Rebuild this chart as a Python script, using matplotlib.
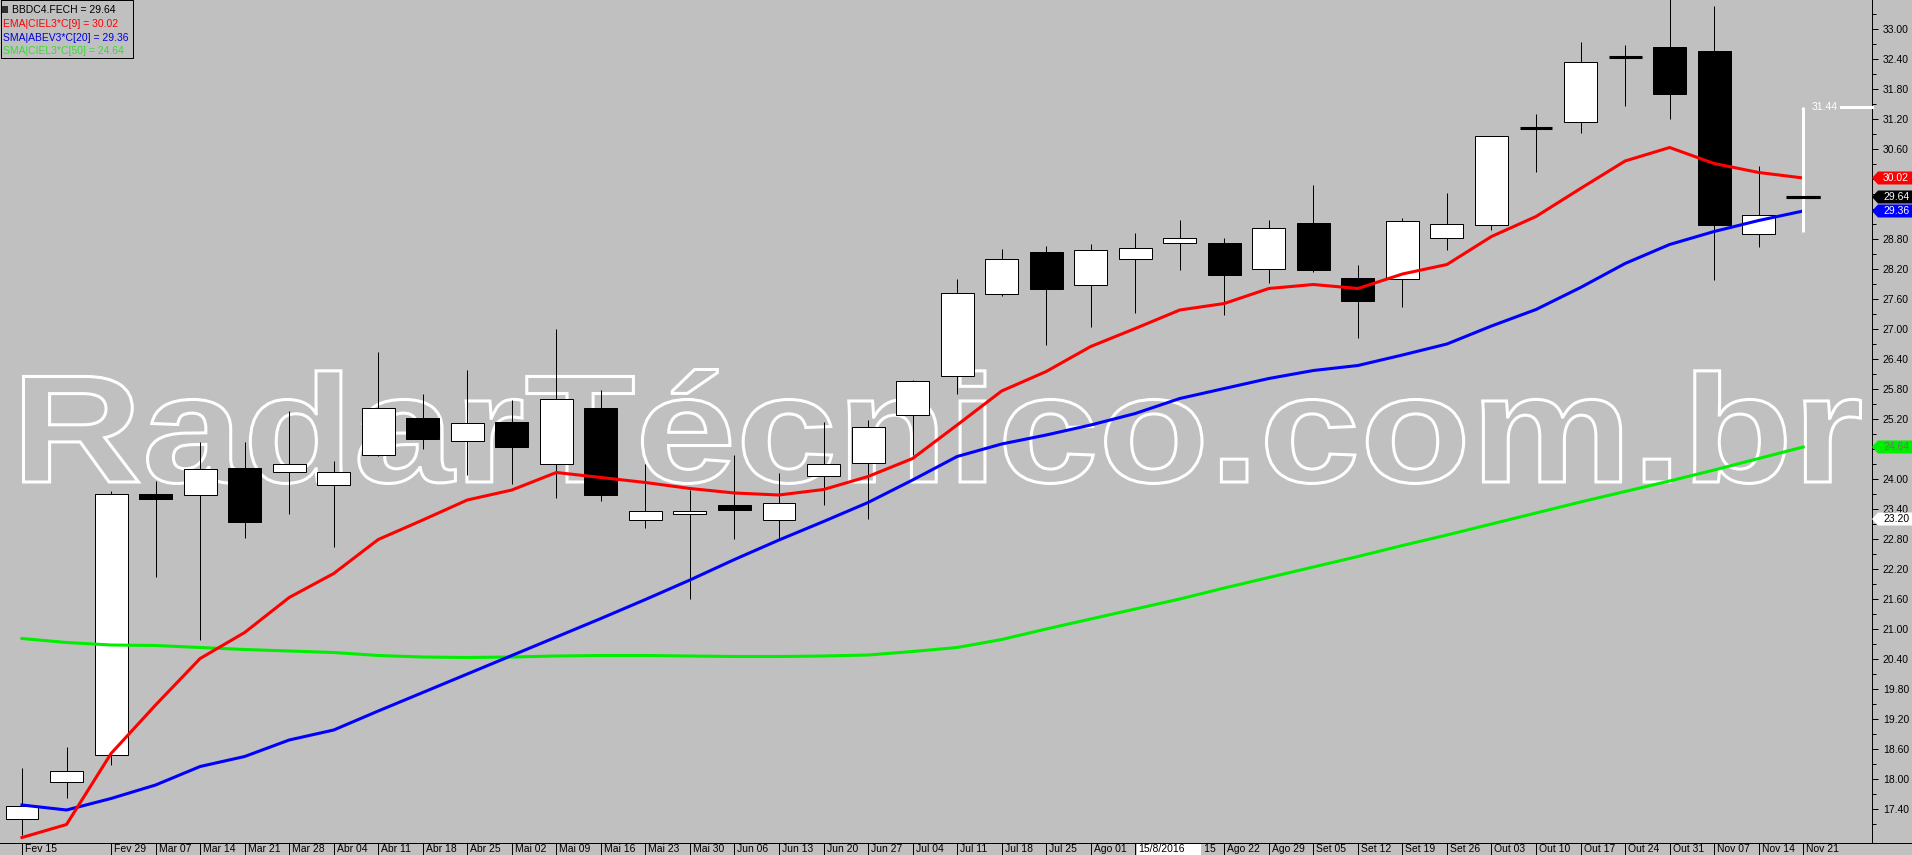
import matplotlib
matplotlib.use('Agg')
import matplotlib.pyplot as plt
import matplotlib.transforms as mtransforms
from matplotlib.patches import Rectangle, Polygon, PathPatch
from matplotlib.textpath import TextPath
from matplotlib.font_manager import FontProperties
from matplotlib.lines import Line2D
from matplotlib.ticker import FixedLocator, FuncFormatter

# weekly candles BBDC4, 15/02/2016 .. 21/11/2016
week_labels = ['Fev 15', '', 'Fev 29', 'Mar 07', 'Mar 14', 'Mar 21', 'Mar 28', 'Abr 04',
               'Abr 11', 'Abr 18', 'Abr 25', 'Mai 02', 'Mai 09', 'Mai 16', 'Mai 23', 'Mai 30',
               'Jun 06', 'Jun 13', 'Jun 20', 'Jun 27', 'Jul 04', 'Jul 11', 'Jul 18', 'Jul 25',
               'Ago 01', 'Ago 08', 'Ago 15', 'Ago 22', 'Ago 29', 'Set 05', 'Set 12', 'Set 19',
               'Set 26', 'Out 03', 'Out 10', 'Out 17', 'Out 24', 'Out 31', 'Nov 07', 'Nov 14',
               'Nov 21']

opens = [17.20, 17.94, 18.48, 23.70, 23.67, 24.21, 24.13, 23.87, 24.48, 25.22, 24.75,
         25.13, 24.30, 25.41, 23.17, 23.31, 23.49, 23.17, 24.05, 24.33, 25.27, 26.05,
         27.69, 28.53, 27.87, 28.39, 28.71, 28.71, 28.19, 29.12, 28.02, 27.99, 28.81,
         29.07, 31.01, 31.13, 32.44, 32.63, 32.56, 28.89, 29.64]
closes = [17.46, 18.16, 23.70, 23.60, 24.19, 23.13, 24.29, 24.15, 25.41, 24.79, 25.11,
          24.63, 25.59, 23.67, 23.35, 23.37, 23.37, 23.51, 24.29, 25.05, 25.95, 27.71,
          28.39, 27.79, 28.57, 28.61, 28.83, 28.07, 29.01, 28.17, 27.55, 29.15, 29.09,
          30.85, 31.01, 32.33, 32.44, 31.69, 29.07, 29.27, 29.64]
highs = [18.22, 18.64, 23.76, 23.96, 24.74, 24.74, 25.36, 24.35, 26.54, 25.70, 26.18,
         25.58, 27.00, 25.78, 24.29, 23.78, 24.47, 24.11, 25.13, 25.18, 25.98, 28.00,
         28.60, 28.65, 28.69, 28.92, 29.18, 28.81, 29.18, 29.88, 28.28, 29.21, 29.72,
         30.85, 31.30, 32.74, 32.68, 33.70, 33.46, 30.26, 29.64]
lows = [16.88, 17.62, 18.28, 22.04, 20.78, 22.83, 23.31, 22.65, 24.46, 24.59, 24.07,
        23.89, 23.61, 23.56, 23.01, 21.59, 22.79, 22.81, 23.48, 23.20, 24.48, 25.70,
        27.65, 26.67, 27.03, 27.33, 28.17, 27.27, 27.91, 28.13, 26.81, 27.43, 28.57,
        28.97, 30.13, 30.91, 31.45, 31.19, 27.97, 28.63, 29.64]

ema9_ciel3 = [16.83, 17.09, 18.51, 19.48, 20.41, 20.93, 21.63, 22.11, 22.79, 23.18, 23.58,
              23.78, 24.13, 24.03, 23.93, 23.81, 23.72, 23.68, 23.79, 24.05, 24.41, 25.08,
              25.76, 26.15, 26.65, 27.01, 27.38, 27.51, 27.81, 27.89, 27.81, 28.10, 28.29,
              28.85, 29.25, 29.81, 30.36, 30.63, 30.31, 30.13, 30.02]
sma20_abev3 = [17.48, 17.38, 17.61, 17.88, 18.25, 18.45, 18.78, 18.98, 19.36, 19.73, 20.10,
               20.47, 20.84, 21.21, 21.59, 21.98, 22.39, 22.78, 23.15, 23.53, 23.98, 24.45,
               24.70, 24.88, 25.08, 25.31, 25.61, 25.81, 26.01, 26.17, 26.27, 26.48, 26.70,
               27.06, 27.39, 27.83, 28.31, 28.69, 28.95, 29.17, 29.36]
sma50_ciel3 = [20.81, 20.73, 20.68, 20.67, 20.63, 20.59, 20.56, 20.53, 20.47, 20.44, 20.43,
               20.44, 20.46, 20.47, 20.47, 20.46, 20.45, 20.45, 20.46, 20.48, 20.55, 20.63,
               20.79, 21.00, 21.20, 21.40, 21.60, 21.82, 22.03, 22.24, 22.45, 22.67, 22.88,
               23.10, 23.32, 23.54, 23.75, 23.96, 24.18, 24.41, 24.64]

last_high = 31.44
last_low = 28.94
cursor_price = 23.20
cursor_date = '15/8/2016'

BG = '#C0C0C0'
RED = '#FF0000'
BLUE = '#0000FF'
GREEN = '#00EE00'
PX = 0.72  # one pixel in points at 100 dpi
FONT = 'Liberation Sans'
plt.rcParams['font.family'] = [FONT, 'DejaVu Sans']

W, H = 1912, 855
AX_R, AX_B = 1872, 843
STEP = 44.53  # pixels per candle

fig = plt.figure(figsize=(W / 100, H / 100), dpi=100, facecolor=BG)
ax = fig.add_axes([0, (H - AX_B) / H, AX_R / W, AX_B / H])
ax.set_facecolor(BG)

n = len(closes)
xs = list(range(n))

# watermark, outlined text
fp = FontProperties(family=FONT, weight='bold')
tp = TextPath((0, 0), 'RadarTécnico.com.br', size=100, prop=fp)
bb = tp.get_extents()
x0, x1 = 23.5, 1860.5
yb, yt = H - 483.5, H - 369.5
tr = mtransforms.Affine2D().translate(-bb.x0, -bb.y0).scale((x1 - x0) / bb.width, (yt - yb) / bb.height).translate(x0, yb)
ax.add_patch(PathPatch(tp, transform=tr, facecolor='none', edgecolor='white', lw=2.2, zorder=0.8))

# candles
ax.vlines(xs, lows, highs, color='black', lw=PX, zorder=2)
for i in range(n):
    o, c = opens[i], closes[i]
    if abs(c - o) < 0.03:
        ax.hlines(c, i - 0.37, i + 0.37, color='black', lw=2.2, zorder=3)
        continue
    face = 'white' if c > o else 'black'
    ax.bar(i, abs(c - o), bottom=min(o, c), width=0.74, color=face, edgecolor='black',
           linewidth=PX, zorder=3)

ax.plot(xs, sma50_ciel3, color=GREEN, lw=2.2, zorder=4, solid_joinstyle='round')
ax.plot(xs, sma20_abev3, color=BLUE, lw=2.2, zorder=4, solid_joinstyle='round')
ax.plot(xs, ema9_ciel3, color=RED, lw=2.2, zorder=4, solid_joinstyle='round')

# last-bar range marker
ax.vlines(n - 1, last_low, last_high, color='white', lw=2.2, zorder=5)
ax.hlines(closes[-1], n - 1 - 0.38, n - 1 + 0.38, color='black', lw=2.2, zorder=6)
ax.text(n - 1 + 0.19, last_high, '%.2f' % last_high, color='white', fontsize=7.5,
        va='center', ha='left', zorder=6)
trb = mtransforms.blended_transform_factory(ax.transAxes, ax.transData)
ax.plot([1 - 31 / AX_R, 1], [last_high, last_high], transform=trb, color='white', lw=2.2,
        clip_on=False, zorder=6)

ax.set_xlim(-22 / STEP, -22 / STEP + AX_R / STEP)
ax.set_ylim(33 - (AX_B - 29) / 50, 33 + 29 / 50)

for s in ['left', 'top']:
    ax.spines[s].set_visible(False)
ax.spines['right'].set_linewidth(PX)
ax.spines['bottom'].set_visible(False)
fig.add_artist(Line2D([0, 1], [(H - AX_B) / H] * 2, transform=fig.transFigure,
                      color='black', lw=PX))

ax.set_xticks([])
ax.yaxis.tick_right()
majors = [17.4 + 0.6 * k for k in range(27)]
minors = [17.1 + 0.6 * k for k in range(28)]
ax.yaxis.set_major_locator(FixedLocator(majors))
ax.yaxis.set_minor_locator(FixedLocator(minors))
ax.yaxis.set_major_formatter(FuncFormatter(lambda v, p: '%.2f' % v))
ax.tick_params(axis='y', which='major', length=6 * PX, width=PX, pad=3.5, labelsize=7.5,
               colors='black')
ax.tick_params(axis='y', which='minor', length=4 * PX, width=PX)

# value tags on the price axis
def tag(y, face, tcolor, txt):
    h = 6.5 / 50
    a = 1.0
    b = 1 + 6 / AX_R
    c = 1.03
    ax.add_patch(Polygon([(a, y), (b, y + h), (c, y + h), (c, y - h), (b, y - h)], closed=True,
                         transform=trb, facecolor=face, edgecolor='none', clip_on=False, zorder=7))
    ax.text(1 + 11 / AX_R, y, txt, transform=trb, color=tcolor, fontsize=7.5, va='center',
            ha='left', zorder=8, clip_on=False)

tag(ema9_ciel3[-1], RED, 'white', '%.2f' % ema9_ciel3[-1])
tag(closes[-1], 'black', 'white', '%.2f' % closes[-1])
tag(sma20_abev3[-1], BLUE, 'white', '%.2f' % sma20_abev3[-1])
tag(sma50_ciel3[-1], GREEN, '#707070', '%.2f' % sma50_ciel3[-1])
tag(cursor_price, 'white', 'black', '%.2f' % cursor_price)

# date axis
trx = mtransforms.blended_transform_factory(ax.transData, ax.transAxes)
off = mtransforms.ScaledTranslation(3 / 100, 0, fig.dpi_scale_trans)
ybot = -(H - AX_B) / AX_B
for i, lab in enumerate(week_labels):
    if not lab:
        continue
    ax.plot([i, i], [0, ybot], transform=trx, color='black', lw=PX, clip_on=False)
    ax.text(i, ybot / 2, lab, transform=trx + off, fontsize=7.5, va='center', ha='left',
            clip_on=False)
ci = week_labels.index('Ago 08')
ax.add_patch(Rectangle((ci + 2 / STEP, ybot), 64 / STEP, -ybot * 0.95, transform=trx,
                       facecolor='white', edgecolor='none', clip_on=False, zorder=9))
ax.text(ci, ybot / 2, cursor_date, transform=trx + off, fontsize=7.5, va='center', ha='left',
        clip_on=False, zorder=10)

# legend box
fig.add_artist(Rectangle((0.5 / W, 1 - 58 / H), 132.5 / W, 58 / H - 0.5 / H,
                         transform=fig.transFigure, facecolor=BG, edgecolor='black', lw=PX))
fig.add_artist(Rectangle((2 / W, 1 - 13 / H), 6 / W, 7 / H, transform=fig.transFigure,
                         facecolor='#303030', edgecolor='none'))
legend_rows = [
    (12, 'BBDC4.FECH = %.2f' % closes[-1], 'black'),
    (3, 'EMA|CIEL3*C[9] = %.2f' % ema9_ciel3[-1], RED),
    (3, 'SMA|ABEV3*C[20] = %.2f' % sma20_abev3[-1], '#0000E0'),
    (3, 'SMA|CIEL3*C[50] = %.2f' % sma50_ciel3[-1], '#33DD33'),
]
for k, (lx, txt, col) in enumerate(legend_rows):
    fig.text(lx / W, 1 - (10 + 13.8 * k) / H, txt, color=col, fontsize=7.5, va='center',
             ha='left')

fig.savefig('out.png', dpi=100, facecolor=BG)
